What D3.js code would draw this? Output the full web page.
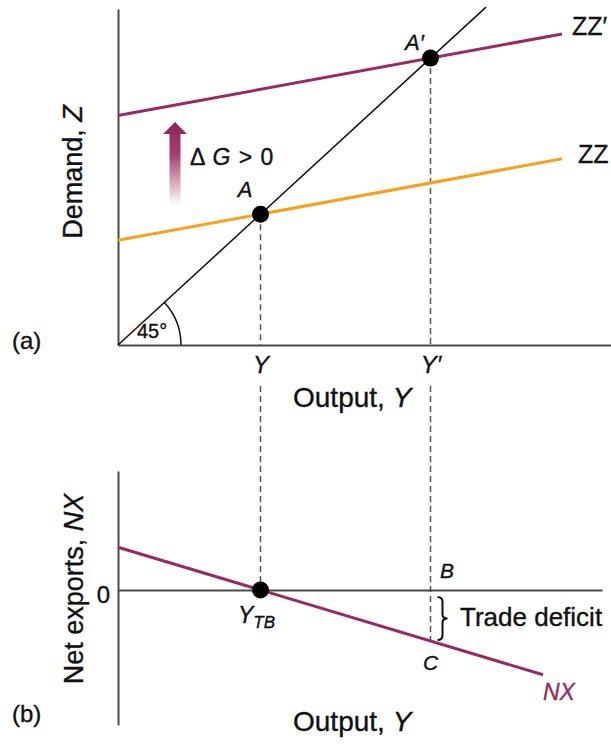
<!DOCTYPE html>
<html>
<head>
<meta charset="utf-8">
<script src="https://cdn.jsdelivr.net/npm/d3@7"></script>
<style>
  body { margin: 0; background: #fff; }
  text { font-family: "Liberation Sans", Arial, Helvetica, sans-serif; fill: #111; stroke: #111; stroke-width: 0.35px; }
</style>
</head>
<body>
<div id="chart"></div>
<script>
// values, in chart units (output on x, demand / net exports on y)
let line45 = [[0, 0], [36.8, 36.8]]
let zz = [[0, 11.4], [44.4, 20.28]]
let zzPrime = [[0, 25], [44.4, 33.88]]
let nx = [[0, 4.275], [42.5, -8.475]]
let eqY = [14.25, 31.25]          // Y, Y'
let eqLabels = ['Y', 'Y′']
let nxTicks = [0]
let pointA = [14.25, 14.25]
let pointA2 = [31.25, 31.25]
let yTB = 14.25
let pointC = [31.25, -5.1]
let arrowX = 5.7
let arrowFrom = 15.25
let arrowTo = 24.3

let magenta = '#962c61'
let orange = '#f7a21d'
let axisColor = '#4a4a4a'

let svg = d3.select('#chart')
  .append('svg')
    .attr('width', 611)
    .attr('height', 744)

let x = d3.scaleLinear().domain([0, 50]).range([118, 618])
let yTop = d3.scaleLinear().domain([0, 36.6]).range([345, 9])
let yBot = d3.scaleLinear().domain([-13.5, 11.9]).range([725, 471])

let line = (ys) => d3.line().x(d => x(d[0])).y(d => ys(d[1]))

let defs = svg.append('defs')
let grad = defs.append('linearGradient')
  .attr('id', 'arrowGrad')
  .attr('x1', 0).attr('y1', 0).attr('x2', 0).attr('y2', 1)
grad.append('stop').attr('offset', 0).attr('stop-color', '#8c2257')
grad.append('stop').attr('offset', 0.4).attr('stop-color', '#a3416f')
grad.append('stop').attr('offset', 1).attr('stop-color', '#ffffff')

// ---------- panel (a) ----------
let panelA = svg.append('g')

// axes
let xAxisTop = panelA.append('g')
  .attr('transform', `translate(0,${yTop(0)})`)
  .call(d3.axisBottom(x).tickValues(eqY).tickFormat((d, i) => eqLabels[i])
    .tickSize(0).tickSizeOuter(0).tickPadding(11))
let yAxisTop = panelA.append('g')
  .attr('transform', `translate(${x(0)},0)`)
  .call(d3.axisLeft(yTop).tickValues([]).tickSizeOuter(0))

xAxisTop.attr('font-size', 24)
xAxisTop.selectAll('text')
  .style('font-style', 'italic')
  .attr('fill', '#111')

// dashed guides
panelA.selectAll('.guide')
  .data([pointA, pointA2])
  .enter()
  .append('line')
    .attr('x1', d => x(d[0]))
    .attr('x2', d => x(d[0]))
    .attr('y1', d => yTop(d[1]))
    .attr('y2', yTop(0))
    .attr('stroke', '#555')
    .attr('stroke-width', 1.5)
    .attr('stroke-dasharray', '6,4')

// 45 degree line
panelA.append('path')
  .attr('d', line(yTop)(line45))
  .attr('fill', 'none')
  .attr('stroke', '#111')
  .attr('stroke-width', 1.5)

// ZZ and ZZ'
panelA.append('path')
  .attr('d', line(yTop)(zz))
  .attr('fill', 'none')
  .attr('stroke', orange)
  .attr('stroke-width', 3)
panelA.append('path')
  .attr('d', line(yTop)(zzPrime))
  .attr('fill', 'none')
  .attr('stroke', magenta)
  .attr('stroke-width', 3)

// angle arc
let theta = Math.atan2(yTop(0) - yTop(line45[1][1]), x(line45[1][0]) - x(0))
let arc = d3.path()
arc.moveTo(x(0) + 63, yTop(0))
arc.arc(x(0), yTop(0), 63, 0, -theta, true)
panelA.append('path')
  .attr('d', arc.toString())
  .attr('fill', 'none')
  .attr('stroke', '#111')
  .attr('stroke-width', 1.5)

// arrow
let ax = x(arrowX)
let aTip = yTop(arrowTo)
let aEnd = yTop(arrowFrom)
panelA.append('path')
  .attr('d', `M${ax},${aTip} L${ax + 12},${aTip + 12} L${ax + 5.5},${aTip + 12} L${ax + 5.5},${aEnd} L${ax - 5.5},${aEnd} L${ax - 5.5},${aTip + 12} L${ax - 12},${aTip + 12} Z`)
  .attr('fill', 'url(#arrowGrad)')

// points
panelA.selectAll('.pt')
  .data([pointA, pointA2])
  .enter()
  .append('circle')
    .attr('cx', d => x(d[0]))
    .attr('cy', d => yTop(d[1]))
    .attr('r', 8.5)
    .attr('fill', '#000')

// labels
panelA.append('text').attr('x', 245).attr('y', 197).attr('text-anchor', 'middle')
  .style('font-size', '22px').style('font-style', 'italic').text('A')
panelA.append('text').attr('x', 405).attr('y', 50)
  .style('font-size', '22px').style('font-style', 'italic').text('A′')
panelA.append('text').attr('x', 572).attr('y', 35)
  .style('font-size', '25px').text('ZZ′')
panelA.append('text').attr('x', 578).attr('y', 163)
  .style('font-size', '25px').text('ZZ')
let dg = panelA.append('text').attr('x', 190).attr('y', 165).style('font-size', '23px')
  .style('word-spacing', '2px')
dg.append('tspan').text('Δ ')
dg.append('tspan').style('font-style', 'italic').text('G')
dg.append('tspan').text(' > 0')
panelA.append('text').attr('x', 137).attr('y', 338)
  .style('font-size', '20px').text('45°')
panelA.append('text').attr('x', 12).attr('y', 349)
  .style('font-size', '24px').text('(a)')

let outA = panelA.append('text').attr('x', 293).attr('y', 407).style('font-size', '28px')
outA.append('tspan').text('Output, ')
outA.append('tspan').style('font-style', 'italic').text('Y')

let demand = panelA.append('text')
  .attr('transform', 'translate(82,172) rotate(-90)')
  .attr('text-anchor', 'middle')
  .style('font-size', '27px')
demand.append('tspan').text('Demand, ')
demand.append('tspan').style('font-style', 'italic').text('Z')

// ---------- panel (b) ----------
let panelB = svg.append('g')

// guides continuing down from panel (a)
panelB.selectAll('.guide')
  .data([[eqY[0], 0], pointC])
  .enter()
  .append('line')
    .attr('x1', d => x(d[0]))
    .attr('x2', d => x(d[0]))
    .attr('y1', 386)
    .attr('y2', d => yBot(d[1]))
    .attr('stroke', '#555')
    .attr('stroke-width', 1.5)
    .attr('stroke-dasharray', '6,4')

let xBot = x.copy().domain([0, 48.4]).range([x(0), x(48.4)])
let xAxisBot = panelB.append('g')
  .attr('transform', `translate(0,${yBot(0)})`)
  .call(d3.axisBottom(xBot).tickValues([]).tickSizeOuter(0))
let yAxisBot = panelB.append('g')
  .attr('transform', `translate(${x(0)},0)`)
  .call(d3.axisLeft(yBot).tickValues(nxTicks).tickSize(0).tickSizeOuter(0).tickPadding(8))
yAxisBot.selectAll('text')
  .style('font-size', '24px')
  .attr('dy', '0.5em')
  .attr('fill', '#111')

panelB.append('path')
  .attr('d', line(yBot)(nx))
  .attr('fill', 'none')
  .attr('stroke', magenta)
  .attr('stroke-width', 3)

panelB.append('circle')
  .attr('cx', x(yTB))
  .attr('cy', yBot(0))
  .attr('r', 8.5)
  .attr('fill', '#000')

// brace for the trade deficit
let bx = x(pointC[0]) + 7
let b0 = yBot(0) + 7
let b1 = yBot(pointC[1]) - 1
let bm = (b0 + b1) / 2
panelB.append('path')
  .attr('d', `M${bx},${b0} Q${bx + 5},${b0} ${bx + 5},${b0 + 5} L${bx + 5},${bm - 4} Q${bx + 5},${bm} ${bx + 10},${bm} Q${bx + 5},${bm} ${bx + 5},${bm + 4} L${bx + 5},${b1 - 5} Q${bx + 5},${b1} ${bx},${b1}`)
  .attr('fill', 'none')
  .attr('stroke', '#111')
  .attr('stroke-width', 2)

let ytb = panelB.append('text').attr('x', 238).attr('y', 623).style('font-style', 'italic')
ytb.append('tspan').style('font-size', '23px').text('Y')
ytb.append('tspan').style('font-size', '17px').attr('dy', 5).text('TB')

panelB.append('text').attr('x', 440).attr('y', 578)
  .style('font-size', '21px').style('font-style', 'italic').text('B')
panelB.append('text').attr('x', 423).attr('y', 670)
  .style('font-size', '21px').style('font-style', 'italic').text('C')
panelB.append('text').attr('x', 460).attr('y', 626)
  .style('font-size', '26px').text('Trade deficit')
panelB.append('text').attr('x', 543).attr('y', 700)
  .style('font-size', '23px').style('font-style', 'italic')
  .style('fill', magenta).style('stroke', magenta).text('NX')
panelB.append('text').attr('x', 12).attr('y', 722)
  .style('font-size', '24px').text('(b)')

let outB = panelB.append('text').attr('x', 293).attr('y', 731).style('font-size', '28px')
outB.append('tspan').text('Output, ')
outB.append('tspan').style('font-style', 'italic').text('Y')

let netx = panelB.append('text')
  .attr('transform', 'translate(83,589) rotate(-90)')
  .attr('text-anchor', 'middle')
  .style('font-size', '27px')
netx.append('tspan').text('Net exports, ')
netx.append('tspan').style('font-style', 'italic').text('NX')

svg.selectAll('.domain')
  .attr('stroke', axisColor)
  .attr('stroke-width', 2)
</script>
</body>
</html>
